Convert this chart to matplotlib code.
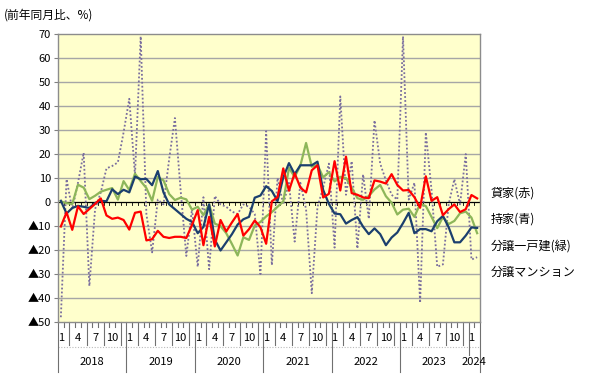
import numpy as np
import matplotlib.pyplot as plt

plt.rcParams['font.family'] = ['Noto Sans CJK JP', 'DejaVu Sans']

# monthly data, 2018/1 - 2024/2 (y/y %)
years = ['2018', '2019', '2020', '2021', '2022', '2023', '2024']
month_labels = ['1', '4', '7', '10']

rental = [-10.2, -4.3, -11.6, -1.8, -5.0, -2.9, -0.8, 1.5, -5.6, -7.0, -6.5, -7.5,
          -11.5, -4.5, -4.0, -16.0, -15.5, -12.0, -14.5, -15.0, -14.5, -14.5, -15.0, -9.5,
          -3.4, -18.0, -6.2, -18.5, -7.5, -12.3, -8.5, -5.0, -14.0, -11.3, -7.7, -10.5,
          -17.4, 0.3, 2.0, 14.0, 4.7, 12.0, 6.0, 4.0, 13.2, 15.3, 1.9, 3.4,
          17.0, 4.8, 18.9, 3.7, 3.0, 1.9, 1.6, 9.0, 8.5, 7.7, 11.6, 7.1,
          4.8, 5.0, 2.0, -2.4, 10.7, 0.5, 2.0, -5.5, -3.0, -1.0, -4.2, -3.0,
          2.9, 1.5]

owner = [0.5, -4.8, -2.5, -1.6, -2.0, -2.5, -0.4, 0.5, 0.3, 5.3, 3.3, 5.1,
         4.0, 10.6, 9.5, 9.6, 7.0, 12.9, 4.0, -1.0, -3.0, -5.0, -7.0, -8.3,
         -13.0, -10.4, -1.0, -15.7, -20.2, -16.8, -13.4, -9.4, -7.2, -6.2, 1.8, 2.7,
         6.6, 4.6, 0.4, 10.2, 16.2, 11.6, 15.3, 15.3, 15.3, 16.8, 5.0, -0.8,
         -4.8, -5.1, -9.0, -7.5, -6.3, -10.3, -13.4, -11.0, -13.4, -18.0, -14.8, -12.7,
         -8.8, -4.5, -13.0, -11.3, -11.3, -12.2, -8.0, -5.8, -10.5, -16.8, -16.8, -14.0,
         -10.6, -10.8]

detached = [0.3, -0.5, -0.8, 7.2, 6.0, 1.2, 2.6, 4.3, 5.1, 5.8, 1.0, 8.7,
            5.0, 11.8, 8.7, 5.8, 0.5, 10.4, 9.0, 3.3, 0.8, 1.8, 1.1, -3.2,
            -2.0, -5.5, -1.0, -9.0, -10.0, -13.0, -17.5, -22.3, -14.7, -15.8, -9.8, -8.3,
            -6.0, -4.2, -2.0, 0.2, 14.2, 10.4, 15.2, 24.6, 14.7, 15.5, 10.3, 12.4,
            8.6, 10.5, 10.0, 6.0, 1.6, 0.9, 2.5, 5.2, 7.1, 2.4, -0.3, -5.2,
            -3.2, -2.8, -6.2, -0.7, -1.7, -6.2, -10.9, -6.2, -9.2, -7.9, -4.7, -4.0,
            -6.5, -13.0]

condo = [-48.0, 9.5, -3.0, 8.0, 20.5, -35.0, -3.0, 4.0, 14.0, 15.0, 16.5, 29.0,
         43.0, 11.0, 69.0, -5.0, -21.0, 1.0, -1.0, 18.0, 35.0, 5.0, -22.5, -3.0,
         -27.0, 2.0, -28.0, 2.5, -1.0, -2.0, -4.0, -5.0, -1.0, -2.0, -5.0, -30.0,
         29.5, -26.3, 10.0, -1.0, 8.0, -16.5, 8.0, -3.0, -38.0, -2.0, 6.0, 16.0,
         -19.0, 44.0, 3.0, 17.0, -19.4, 11.5, -7.0, 34.0, 16.0, 9.0, 3.0, 1.0,
         69.0, 1.0, 8.0, -42.0, 29.0, 5.0, -27.0, -26.0, -1.0, 9.5, -1.0, 20.0,
         -24.0, -23.0]

W, H = 596, 377
fig = plt.figure(figsize=(W / 100, H / 100), dpi=100)
L, R, T, B = 58, 480, 34, 322
ax = fig.add_axes([L / W, 1 - B / H, (R - L) / W, (B - T) / H])
ax.set_facecolor('#FFFFCC')

n = len(rental)
x = np.arange(n)
ax.set_xlim(-0.5, n - 0.5)
ax.set_ylim(-50, 70)

for v in range(-40, 70, 10):
    if v != 0:
        ax.axhline(v, color='#A6A6A6', lw=1.0, zorder=1)

ax.plot(x, condo, color='#7A6E9E', lw=1.3, linestyle=(0, (1, 1.2)), zorder=3)
ax.plot(x, detached, color='#8DB65A', lw=1.6, zorder=4)
ax.plot(x, owner, color='#1B3F6E', lw=1.6, zorder=5)
ax.plot(x, rental, color='#FF0000', lw=1.6, zorder=6)

# zero line with month ticks
ax.axhline(0, color='black', lw=0.9, zorder=2)
for b in range(n + 1):
    ax.plot([b - 0.5, b - 0.5], [0, -1.3], color='black', lw=0.6, zorder=2)

yt = list(range(-50, 71, 10))
ax.set_yticks(yt)
ax.set_yticklabels([('▲' + str(-v)) if v < 0 else str(v) for v in yt], fontsize=8)
ax.tick_params(axis='y', length=3, color='#808080', pad=2)
ax.set_xticks([])
for s in ax.spines.values():
    s.set_color('#8C8C8C')
    s.set_linewidth(1.0)

# category axis drawn below the plot
tr = ax.get_xaxis_transform()
def fy(py):
    return -(py - B) / (B - T)

ax.plot([-0.5, n - 0.5], [fy(347), fy(347)], transform=tr, clip_on=False,
        color='#BBBBBB', lw=0.8, linestyle=(0, (1, 1.5)))
for b in range(n + 1):
    if b % 12 == 0 or b == n:
        bottom = 372 if b != 72 else 355
    elif b % 3 == 2:
        bottom = 345
    else:
        bottom = 327
    ax.plot([b - 0.5, b - 0.5], [0, fy(bottom)], transform=tr, clip_on=False,
            color='#707070', lw=0.8)

for i in range(n):
    if i % 3 == 0:
        ax.text(i, fy(338), month_labels[(i % 12) // 3], transform=tr,
                ha='center', va='center', fontsize=8)

for k, yr in enumerate(years):
    start = k * 12 - 0.5
    end = min(start + 12, n - 0.5)
    ax.text((start + end) / 2, fy(362), yr, transform=tr,
            ha='center', va='center', fontsize=8)

fig.text(4 / W, 1 - 15 / H, '(前年同月比、%)', fontsize=8.5, va='center')

names = ['貸家(赤)', '持家(青)', '分譲一戸建(緑)', '分譲マンション']
for nm, py in zip(names, [193, 219, 246, 272]):
    fig.text(491 / W, 1 - py / H, nm, fontsize=8.7, va='center')

fig.savefig('out.png', dpi=100)
